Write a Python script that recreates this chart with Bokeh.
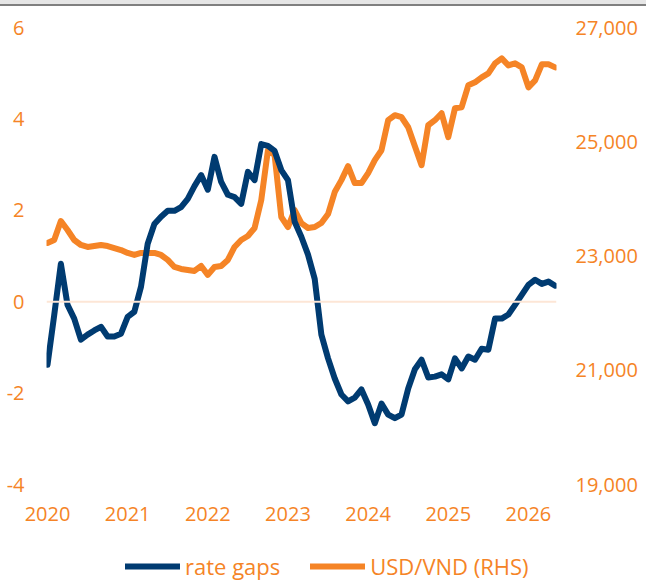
import pandas as pd
from bokeh.plotting import figure
from bokeh.layouts import column
from bokeh.models import (Range1d, LinearAxis, FixedTicker, NumeralTickFormatter,
                          Legend, LegendItem, Span, ColumnDataSource, Div)
from bokeh.embed import file_html
from bokeh.resources import INLINE

# ---- data (monthly, Jan 2020 .. May 2026) ----
months = pd.date_range("2020-01-01", periods=77, freq="MS")
rate_gaps = [
    -1.38, -0.30, 0.83, -0.07, -0.37, -0.83, -0.72, -0.63, -0.55, -0.76, -0.76, -0.70,
    -0.33, -0.22, 0.33, 1.27, 1.70, 1.86, 1.99, 1.99, 2.07, 2.25, 2.53, 2.77,
    2.45, 3.17, 2.62, 2.34, 2.29, 2.14, 2.84, 2.66, 3.45, 3.41, 3.30, 2.88,
    2.66, 1.75, 1.42, 1.03, 0.50, -0.72, -1.24, -1.68, -2.03, -2.18, -2.10, -1.92,
    -2.25, -2.66, -2.23, -2.47, -2.55, -2.47, -1.90, -1.48, -1.27, -1.66, -1.64, -1.59,
    -1.70, -1.24, -1.46, -1.20, -1.27, -1.03, -1.05, -0.37, -0.37, -0.28, -0.07, 0.15,
    0.37, 0.48, 0.39, 0.44, 0.35,
]
usd_vnd = [
    23228, 23280, 23612, 23455, 23280, 23193, 23158, 23175, 23193, 23175, 23140, 23105,
    23053, 23018, 23053, 23053, 23053, 23018, 22931, 22808, 22774, 22756, 22739, 22826,
    22669, 22808, 22826, 22931, 23158, 23280, 23350, 23490, 23979, 24852, 24765, 23682,
    23507, 23804, 23577, 23490, 23507, 23577, 23734, 24119, 24328, 24573, 24276, 24276,
    24451, 24678, 24852, 25377, 25464, 25429, 25254, 24922, 24590, 25289, 25377, 25499,
    25080, 25586, 25604, 25988, 26040, 26128, 26198, 26372, 26460, 26337, 26372, 26302,
    25953, 26075, 26355, 26355, 26302,
]
year_ticks = [2020, 2021, 2022, 2023, 2024, 2025, 2026]
left_ticks = [-4, -2, 0, 2, 4, 6]
left_labels = {-4: "-4", -2: "-2"}
right_ticks = [19000, 21000, 23000, 25000, 27000]
series_names = ["rate gaps", "USD/VND (RHS)"]

x = [d.year + (d.month - 1) / 12 for d in months]
src = ColumnDataSource(dict(x=x, gap=rate_gaps, fx=usd_vnd))

NAVY = "#003b71"
ORANGE = "#f58426"
FONT = "Open Sans"
FS = "20px"


def bare(fig):
    fig.outline_line_color = None
    fig.xgrid.visible = False
    fig.ygrid.visible = False


# ---- thin page rule at the top ----
rule = Div(text="", width=646, height=6, margin=0,
           styles={"background": "linear-gradient(to bottom, #e6e6e6 0px, #e6e6e6 4px, "
                                 "#808080 4px, #808080 6px)"})

# ---- main chart ----
p = figure(width=646, height=530, output_backend="svg", toolbar_location=None,
           x_range=Range1d(2019.9875, 2026.35), y_range=Range1d(-4, 6),
           min_border_left=46, min_border_right=90, min_border_top=21,
           min_border_bottom=52)
bare(p)
p.background_fill_color = "white"
p.border_fill_color = "white"

p.extra_y_ranges = {"rhs": Range1d(19000, 27000)}
rax = LinearAxis(y_range_name="rhs")
p.add_layout(rax, "right")

for ax in [p.xaxis[0], p.yaxis[0], rax]:
    ax.axis_line_color = None
    ax.major_tick_line_color = None
    ax.minor_tick_line_color = None
    ax.major_tick_out = 0
    ax.major_tick_in = 0
    ax.minor_tick_out = 0
    ax.minor_tick_in = 0
    ax.major_label_text_color = ORANGE
    ax.major_label_text_font = FONT
    ax.major_label_text_font_size = FS

p.xaxis[0].ticker = FixedTicker(ticks=year_ticks)
p.xaxis[0].major_label_standoff = 22
p.yaxis[0].ticker = FixedTicker(ticks=left_ticks)
p.yaxis[0].major_label_overrides = left_labels
p.yaxis[0].major_label_standoff = 22
rax.ticker = FixedTicker(ticks=right_ticks)
rax.formatter = NumeralTickFormatter(format="0,0")
rax.major_label_standoff = 19

zero = Span(location=0, dimension="width", line_color="#fde6d6", line_width=2)
p.add_layout(zero)

p.line("x", "fx", source=src, y_range_name="rhs", line_color=ORANGE,
       line_width=6, line_join="round", line_cap="round")
p.line("x", "gap", source=src, line_color=NAVY, line_width=6,
       line_join="round", line_cap="round")

# ---- legend strip (series drawn out of its view; only the legend shows) ----
lg = figure(width=646, height=45, output_backend="svg", toolbar_location=None,
            x_range=Range1d(0, 1), y_range=Range1d(0, 1),
            x_axis_location=None, y_axis_location=None,
            min_border_top=0, min_border_bottom=0, min_border_left=46,
            min_border_right=90)
bare(lg)
k_gap = lg.line("x", "gap", source=src, line_color=NAVY, line_width=6,
                line_cap="round")
k_fx = lg.line("x", "fx", source=src, line_color=ORANGE, line_width=6,
               line_cap="round")
legend = Legend(items=[LegendItem(label=series_names[0], renderers=[k_gap]),
                       LegendItem(label=series_names[1], renderers=[k_fx])],
                orientation="horizontal", location=(79, 0),
                glyph_width=55, glyph_height=20, label_standoff=5, spacing=30,
                padding=0, margin=0, border_line_color=None,
                background_fill_alpha=0,
                label_text_color=ORANGE, label_text_font=FONT,
                label_text_font_size="22px")
lg.add_layout(legend)

page = column(rule, p, lg, spacing=0)
open("out.html", "w").write(file_html(page, INLINE))
